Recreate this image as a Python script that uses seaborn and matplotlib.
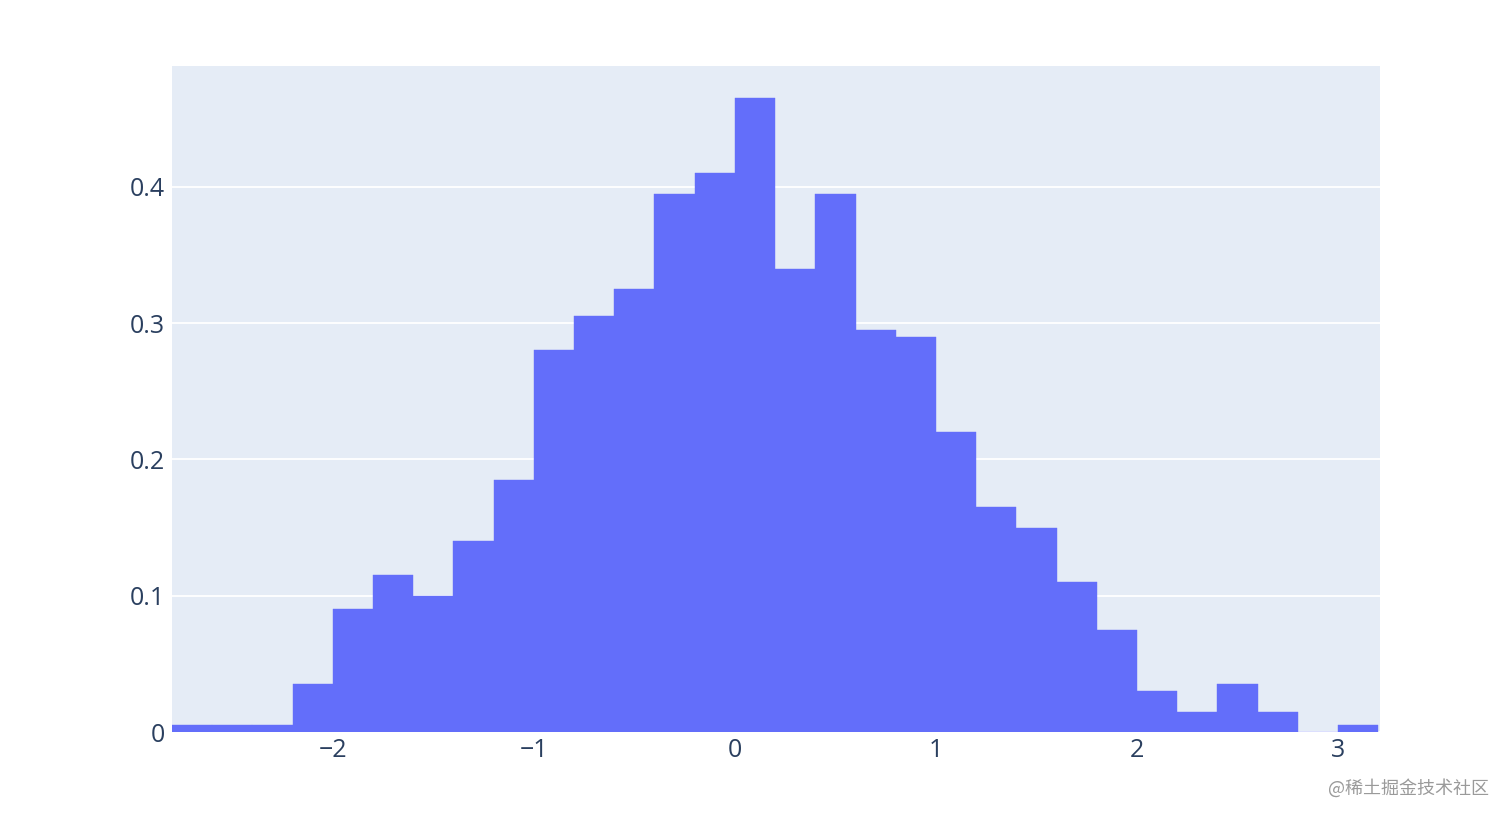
import matplotlib.pyplot as plt
import numpy as np
import pandas as pd
import seaborn as sns

# bin edges (width 0.2) and density per bin
bin_edges = [-2.8, -2.6, -2.4, -2.2, -2.0, -1.8, -1.6, -1.4, -1.2, -1.0, -0.8,
             -0.6, -0.4, -0.2, 0.0, 0.2, 0.4, 0.6, 0.8, 1.0, 1.2, 1.4, 1.6,
             1.8, 2.0, 2.2, 2.4, 2.6, 2.8, 3.0, 3.2]
density = [0.005, 0.005, 0.005, 0.035, 0.09, 0.115, 0.10, 0.14, 0.185, 0.28,
           0.305, 0.325, 0.395, 0.41, 0.465, 0.34, 0.395, 0.295, 0.29, 0.22,
           0.165, 0.15, 0.11, 0.075, 0.03, 0.015, 0.035, 0.015, 0.0, 0.005]
y_ticks = [0, 0.1, 0.2, 0.3, 0.4]
y_tick_labels = ['0', '0.1', '0.2', '0.3', '0.4']
x_ticks = [-2, -1, 0, 1, 2, 3]
x_tick_labels = ['\u22122', '\u22121', '0', '1', '2', '3']

edges = np.array(bin_edges)
bin_centers = (edges[:-1] + edges[1:]) / 2
df = pd.DataFrame({'x': bin_centers, 'w': density})

sns.set_style('white')
plt.rcParams['font.family'] = ['Open Sans', 'DejaVu Sans']

fig = plt.figure(figsize=(15.12, 8.21), dpi=100)
ax = fig.add_axes([172 / 1512, 89 / 821, 1208 / 1512, 666 / 821])
ax.set_facecolor('#e5ecf6')

sns.histplot(data=df, x='x', weights='w', bins=bin_edges, stat='count',
             color='#636efa', alpha=1, edgecolor='#636efa', linewidth=0.3,
             ax=ax, zorder=3)

ax.set_xlim(-2.8, 3.209)
ax.set_ylim(0, 0.4888)
ax.set_yticks(y_ticks)
ax.set_yticklabels(y_tick_labels)
ax.set_xticks(x_ticks)
ax.set_xticklabels(x_tick_labels)
ax.grid(axis='y', color='white', linewidth=1.3, zorder=0)
ax.set_axisbelow(True)
ax.tick_params(axis='both', length=0, labelsize=18, labelcolor='#2a3f5f')
ax.tick_params(axis='x', pad=4)
ax.tick_params(axis='y', pad=5)
ax.set_xlabel('')
ax.set_ylabel('')
for s in ax.spines.values():
    s.set_visible(False)

fig.text(0.985, 0.04, '@稀土掘金技术社区', ha='right', va='center',
         fontsize=13, color='#9a9a9a',
         family=['Noto Sans CJK SC', 'DejaVu Sans'])

fig.savefig('out.png', dpi=100, facecolor='white')
